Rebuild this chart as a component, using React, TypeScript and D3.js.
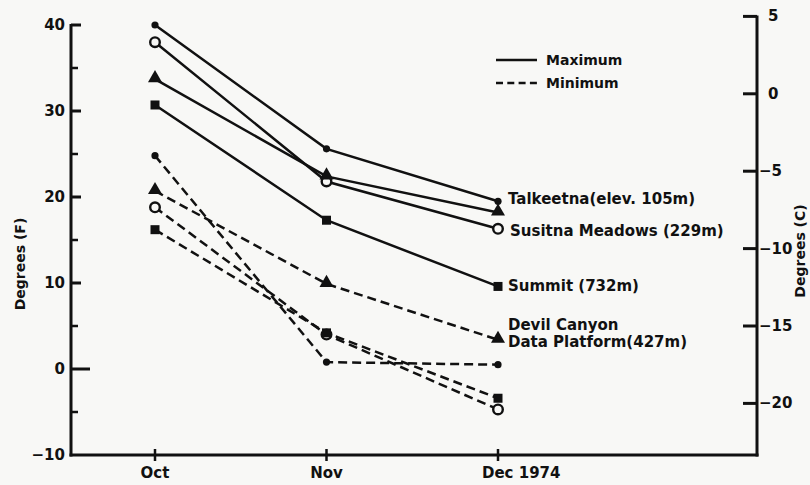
import React from "react";
import * as d3 from "d3";

const months = ["Oct", "Nov", "Dec"];
const stations = ["Talkeetna", "Susitna", "DevilCanyon", "Summit"];
const maxTalkeetna = [40, 25.6, 19.5];
const maxSusitna = [38, 21.8, 16.3];
const maxDevil = [33.7, 22.4, 18.2];
const maxSummit = [30.7, 17.3, 9.6];
const minTalkeetna = [24.8, 0.8, 0.5];
const minSusitna = [18.8, 4.0, -4.7];
const minDevil = [20.7, 9.9, 3.4];
const minSummit = [16.2, 4.2, -3.4];
const leftTicks = [40, 30, 20, 10, 0, -10];
const leftMinor = [35, 25, 15, 5, -5];
const rightTicks = [5, 0, -5, -10, -15, -20];

const W = 810, H = 485;
const FONT = "'DejaVu Sans', sans-serif";

export default function App() {
  const x = d3.scalePoint<string>().domain(months).range([155, 498]);
  const y = d3.scaleLinear().domain([-10, 40]).range([455, 25]);
  const yC = (c: number) => y(c * 9 / 5 + 32);
  const line = d3.line<number>().x((_, i) => x(months[i])!).y(v => y(v));

  const maxSeries = [maxTalkeetna, maxSusitna, maxDevil, maxSummit];
  const minSeries = [minTalkeetna, minSusitna, minDevil, minSummit];
  const xL = 71, xR = 757, yB = 455;
  const tri = d3.symbol().type(d3.symbolTriangle).size(85)()!;

  const marker = (st: string, cx: number, cy: number, key: string) => {
    if (st === "Talkeetna") return <circle key={key} cx={cx} cy={cy} r={3.6} fill="#111" />;
    if (st === "Susitna") return <circle key={key} cx={cx} cy={cy} r={4.8} fill="#f8f8f6" stroke="#111" strokeWidth={2.4} />;
    if (st === "DevilCanyon") return <path key={key} d={tri} transform={`translate(${cx},${cy - 1})`} fill="#111" />;
    return <rect key={key} x={cx - 4.5} y={cy - 4.5} width={9} height={9} fill="#111" />;
  };

  const dec = x("Dec")!;
  const labels = [
    { t: "Talkeetna(elev. 105m)", yy: y(maxTalkeetna[2]) + 3, xx: dec + 10 },
    { t: "Susitna Meadows (229m)", yy: y(maxSusitna[2]) + 7, xx: dec + 12 },
    { t: "Summit (732m)", yy: y(maxSummit[2]) + 5, xx: dec + 10 },
    { t: "Devil Canyon", yy: y(minDevil[2]) - 10, xx: dec + 10 },
    { t: "Data Platform(427m)", yy: y(minDevil[2]) + 7, xx: dec + 10 },
  ];

  return (
    <svg width={W} height={H} style={{ position: "absolute", left: 0, top: 0, display: "block" }} fontFamily={FONT}>
      <rect width={W} height={H} fill="#f8f8f6" />
      {/* axes */}
      <g stroke="#111" strokeWidth={3} fill="none">
        <line x1={xL} y1={y(40) - 1} x2={xL} y2={yB + 1.5} />
        <line x1={xL - 1.5} y1={yB} x2={xR + 1.5} y2={yB} />
        <line x1={xR} y1={yC(5) - 1} x2={xR} y2={yB + 1.5} />
        {leftTicks.slice(0, 5).map(v => (
          <line key={"lt" + v} x1={xL} x2={xL + (v === 0 ? 19 : 10)} y1={y(v)} y2={y(v)} />
        ))}
        {leftMinor.map(v => (
          <line key={"lm" + v} x1={xL} x2={xL + 7} y1={y(v)} y2={y(v)} strokeWidth={2.5} />
        ))}
        {rightTicks.map(v => (
          <line key={"rt" + v} x1={xR - 14} x2={xR} y1={yC(v)} y2={yC(v)} />
        ))}
        {months.map(m => (
          <line key={"bt" + m} x1={x(m)!} x2={x(m)!} y1={yB - 6} y2={yB + 6} strokeWidth={2.5} />
        ))}
      </g>
      {/* tick labels */}
      <g fontSize={15} fontWeight="bold" fill="#111">
        {leftTicks.map(v => (
          <text key={"ll" + v} x={xL - 6} y={y(v) + 5} textAnchor="end">{v < 0 ? "−" + Math.abs(v) : v}</text>
        ))}
        {rightTicks.map(v => (
          <text key={"rl" + v} x={v < 0 ? xR + 2 : xR + 11} y={yC(v) + 5}>{v < 0 ? "−" + Math.abs(v) : v}</text>
        ))}
        <text x={x("Oct")!} y={478} textAnchor="middle">Oct</text>
        <text x={x("Nov")!} y={478} textAnchor="middle">Nov</text>
        <text x={dec - 16} y={478}>Dec 1974</text>
      </g>
      <g fontSize={14} fontWeight="bold" fill="#111">
        <text transform={`translate(25,${264}) rotate(-90)`} textAnchor="middle">Degrees (F)</text>
        <text transform={`translate(805,${251}) rotate(-90)`} textAnchor="middle">Degrees (C)</text>
      </g>
      {/* series */}
      <g fill="none" stroke="#111" strokeWidth={2.5}>
        {maxSeries.map((s, i) => <path key={"mx" + i} d={line(s)!} />)}
        {minSeries.map((s, i) => <path key={"mn" + i} d={line(s)!} strokeDasharray="9,5" />)}
      </g>
      {maxSeries.map((s, i) => s.map((v, j) => marker(stations[i], x(months[j])!, y(v), `mxm${i}-${j}`)))}
      {minSeries.map((s, i) => s.map((v, j) => marker(stations[i], x(months[j])!, y(v), `mnm${i}-${j}`)))}
      {/* station labels */}
      <g fontSize={15} fontWeight="bold" fill="#111">
        {labels.map(l => <text key={l.t} x={l.xx} y={l.yy}>{l.t}</text>)}
      </g>
      {/* legend */}
      <g stroke="#111" strokeWidth={2.5}>
        <line x1={496} x2={537} y1={60} y2={60} />
        <line x1={496} x2={540} y1={83} y2={83} strokeDasharray="7,4.3" />
      </g>
      <g fontSize={14} fontWeight="bold" fill="#111">
        <text x={546} y={65}>Maximum</text>
        <text x={546} y={88}>Minimum</text>
      </g>
    </svg>
  );
}
